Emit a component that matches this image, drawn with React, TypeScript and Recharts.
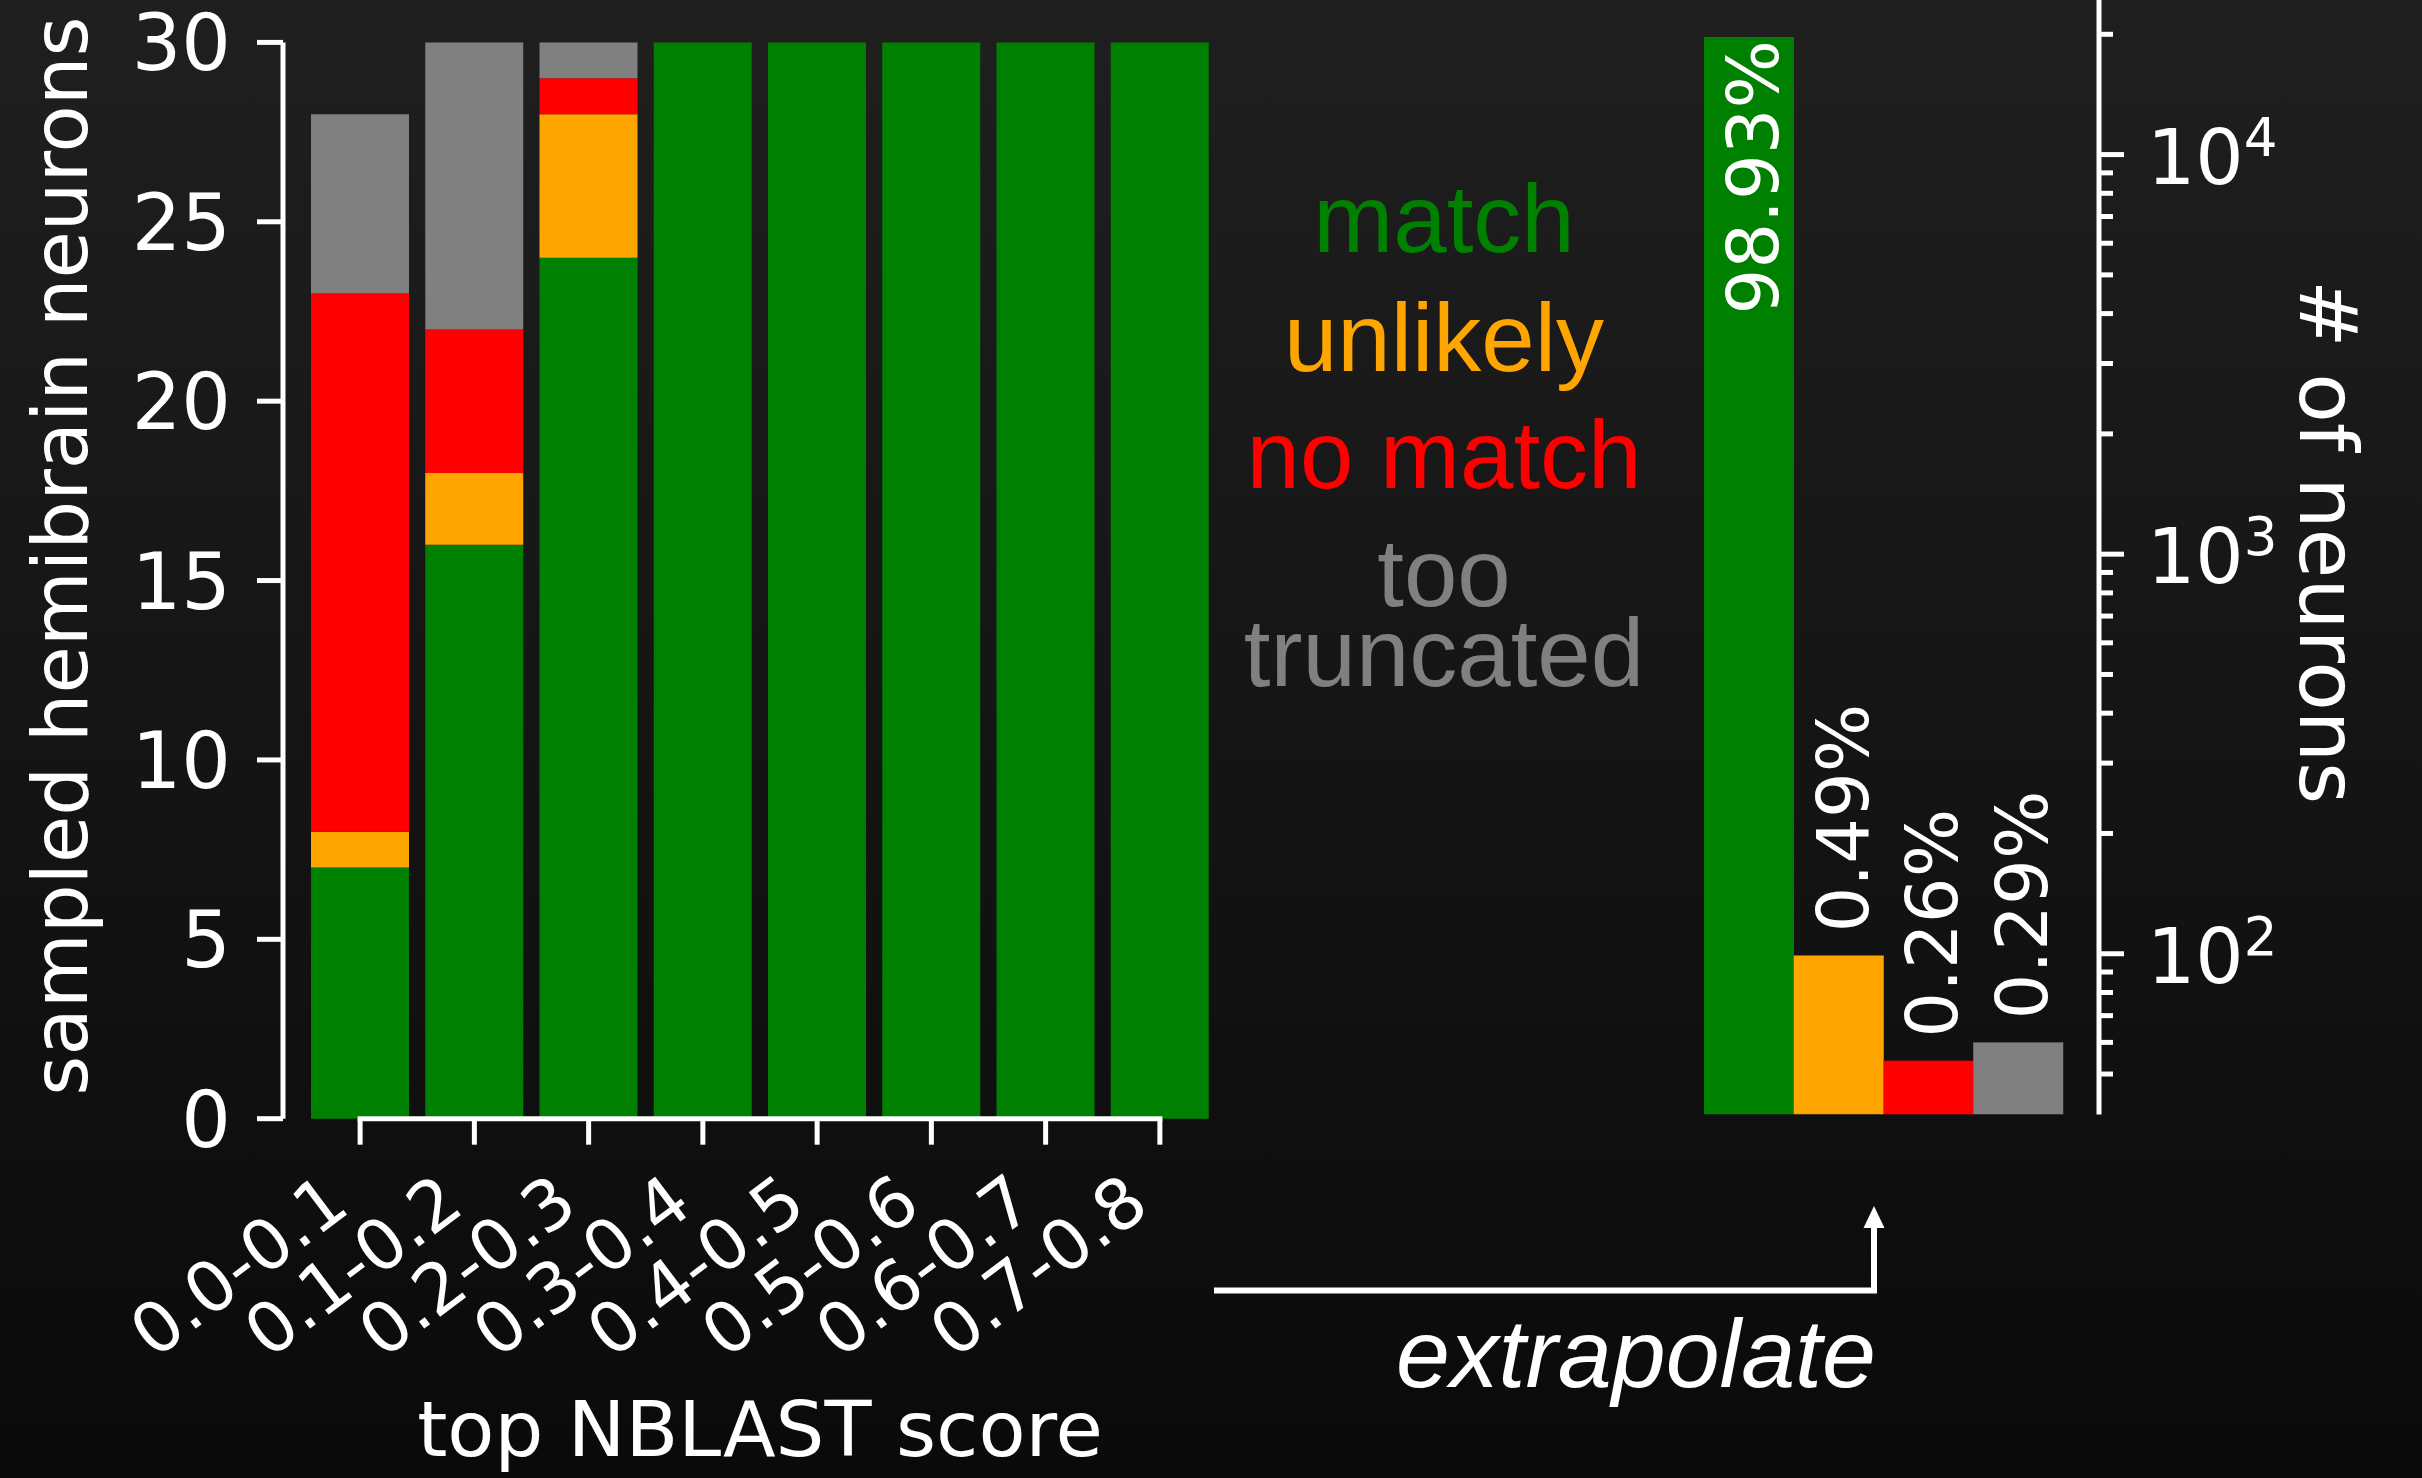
import React from 'react';
import { BarChart, Bar, XAxis, YAxis, ReferenceLine } from 'recharts';

// ---- left panel: sampled neurons per NBLAST score bin ----
const categories = ['0.0-0.1', '0.1-0.2', '0.2-0.3', '0.3-0.4', '0.4-0.5', '0.5-0.6', '0.6-0.7', '0.7-0.8'];
const matchCounts = [7, 16, 24, 30, 30, 30, 30, 30];
const unlikelyCounts = [1, 2, 4, 0, 0, 0, 0, 0];
const noMatchCounts = [15, 4, 1, 0, 0, 0, 0, 0];
const truncatedCounts = [5, 8, 1, 0, 0, 0, 0, 0];
const yTicks = [0, 5, 10, 15, 20, 25, 30];

// ---- right panel: extrapolated totals ----
const extrapCategories = ['match', 'unlikely', 'no match', 'too truncated'];
const extrapCounts = [19690, 99, 54, 60];
const extrapLabels = ['98.93%', '0.49%', '0.26%', '0.29%'];
const logTicks = [50, 60, 70, 80, 90, 100, 200, 300, 400, 500, 600, 700, 800, 900, 1000, 2000, 3000, 4000, 5000, 6000, 7000, 8000, 9000, 10000, 20000];

// ---- legend ----
const legendLines = ['match', 'unlikely', 'no match', 'too', 'truncated'];

const COLORS: Record<string, string> = {
  match: '#008000',
  unlikely: '#ffa500',
  'no match': '#ff0000',
  'too truncated': '#808080',
};
const legendColors = [COLORS.match, COLORS.unlikely, COLORS['no match'], COLORS['too truncated'], COLORS['too truncated']];

const leftData = categories.map((c, i) => ({
  bin: c,
  match: matchCounts[i],
  unlikely: unlikelyCounts[i],
  noMatch: noMatchCounts[i],
  truncated: truncatedCounts[i],
}));

const rightData = extrapCategories.map((c, i) => ({
  name: c,
  count: extrapCounts[i],
  label: extrapLabels[i],
}));

const SANS = '"DejaVu Sans", sans-serif';
const ARIAL = '"Liberation Sans", Arial, sans-serif';

const XTick = (props: any) => {
  const { x, y, payload } = props;
  const ax = x - 8;
  const ay = y + 66;
  return (
    <text x={ax} y={ay} transform={`rotate(-37, ${ax}, ${ay})`} textAnchor="end" fill="#ffffff" fontFamily={SANS} fontSize={70}>
      {payload.value}
    </text>
  );
};

const YTick = (props: any) => {
  const { x, y, payload } = props;
  return (
    <text x={x} y={y + 28} textAnchor="end" fill="#ffffff" fontFamily={SANS} fontSize={78}>
      {payload.value}
    </text>
  );
};

const LogTick = (props: any) => {
  const { x, y, payload } = props;
  const v = payload.value;
  const e = Math.log10(v);
  const major = Math.abs(e - Math.round(e)) < 1e-9;
  return (
    <g>
      <line x1={x} x2={x + (major ? 25 : 14)} y1={y} y2={y} stroke="#ffffff" strokeWidth={5} />
      {major && (
        <text x={x + 48} y={y + 29} fill="#ffffff" fontFamily={SANS} fontSize={76}>
          10
          <tspan dy={-28} fontSize={53}>
            {Math.round(e)}
          </tspan>
        </text>
      )}
    </g>
  );
};

const ExtrapBar = (props: any) => {
  const { x, y, width, height, payload } = props;
  const fill = COLORS[payload.name];
  const inside = payload.name === 'match';
  const px = x + width / 2 + 29;
  const py = inside ? y + 3 : y - 23;
  return (
    <g>
      <rect x={x} y={y} width={width} height={height} fill={fill} />
      <text
        x={px}
        y={py}
        transform={`rotate(-90, ${px}, ${py})`}
        textAnchor={inside ? 'end' : 'start'}
        fill="#ffffff"
        fontFamily={SANS}
        fontSize={72}
      >
        {payload.label}
      </text>
    </g>
  );
};

const legendBaselines = [252, 371, 487.5, 606, 686];

export default function App() {
  return (
    <div
      style={{
        position: 'absolute',
        left: 0,
        top: 0,
        width: 2422,
        height: 1478,
        overflow: 'hidden',
        background: 'linear-gradient(#1f1f1f, #0a0a0a)',
      }}
    >
      <div style={{ position: 'absolute', left: 0, top: 0 }}>
        <BarChart
          width={1250}
          height={1478}
          data={leftData}
          margin={{ top: 42.4, right: 33, bottom: 59.3, left: 83 }}
          barCategoryGap="7%"
        >
          <XAxis
            dataKey="bin"
            type="category"
            height={300}
            padding={{ left: 20, right: 0 }}
            axisLine={false}
            tickLine={{ stroke: '#ffffff', strokeWidth: 5 }}
            tickSize={26}
            tickMargin={0}
            interval={0}
            tick={(p: any) => <XTick {...p} />}
          />
          <YAxis
            type="number"
            domain={[0, 30]}
            ticks={yTicks}
            width={200}
            axisLine={{ stroke: '#ffffff', strokeWidth: 5 }}
            tickLine={{ stroke: '#ffffff', strokeWidth: 5 }}
            tickSize={26}
            tickMargin={26}
            interval={0}
            tick={(p: any) => <YTick {...p} />}
          />
          <Bar dataKey="match" stackId="s" fill={COLORS.match} isAnimationActive={false} />
          <Bar dataKey="unlikely" stackId="s" fill={COLORS.unlikely} isAnimationActive={false} />
          <Bar dataKey="noMatch" stackId="s" fill={COLORS['no match']} isAnimationActive={false} />
          <Bar dataKey="truncated" stackId="s" fill={COLORS['too truncated']} isAnimationActive={false} />
          <ReferenceLine
            segment={[
              { x: categories[0], y: 0 },
              { x: categories[categories.length - 1], y: 0 },
            ]}
            stroke="#ffffff"
            strokeWidth={5}
            strokeLinecap="square"
            ifOverflow="visible"
          />
        </BarChart>
      </div>

      <div style={{ position: 'absolute', left: 1600, top: 0 }}>
        <BarChart
          width={822}
          height={1478}
          data={rightData}
          margin={{ top: 0, right: 0, bottom: 363.5, left: 104 }}
          barCategoryGap={0}
          barGap={0}
        >
          <XAxis dataKey="name" type="category" hide padding={{ left: 0, right: 36 }} />
          <YAxis
            orientation="right"
            type="number"
            scale="log"
            domain={[39.6, 24370]}
            allowDataOverflow
            ticks={logTicks}
            width={323}
            axisLine={{ stroke: '#ffffff', strokeWidth: 5 }}
            tickLine={false}
            tickSize={0}
            tickMargin={0}
            interval={0}
            tick={(p: any) => <LogTick {...p} />}
          />
          <Bar dataKey="count" isAnimationActive={false} shape={(p: any) => <ExtrapBar {...p} />} />
        </BarChart>
      </div>

      <svg style={{ position: 'absolute', left: 0, top: 0, pointerEvents: 'none' }} width={2422} height={1478}>
        <text x={87} y={556} transform="rotate(-90, 87, 556)" textAnchor="middle" fill="#ffffff" fontFamily={SANS} fontSize={77}>
          sampled hemibrain neurons
        </text>
        <text x={760} y={1456} textAnchor="middle" fill="#ffffff" fontFamily={SANS} fontSize={77}>
          top NBLAST score
        </text>
        <text x={2300} y={542} transform="rotate(90, 2300, 542)" textAnchor="middle" fill="#ffffff" fontFamily={SANS} fontSize={81}>
          # of neurons
        </text>
        {legendLines.map((t, i) => (
          <text key={t} x={1444} y={legendBaselines[i]} textAnchor="middle" fill={legendColors[i]} fontFamily={ARIAL} fontSize={96}>
            {t}
          </text>
        ))}
        <path d="M1214 1290.5 H1874 V1224" fill="none" stroke="#ffffff" strokeWidth={6} />
        <polygon points="1874,1206 1863.5,1228 1884.5,1228" fill="#ffffff" />
        <text x={1876} y={1387} textAnchor="end" fill="#ffffff" fontFamily={ARIAL} fontStyle="italic" fontSize={97}>
          extrapolate
        </text>
      </svg>
    </div>
  );
}
